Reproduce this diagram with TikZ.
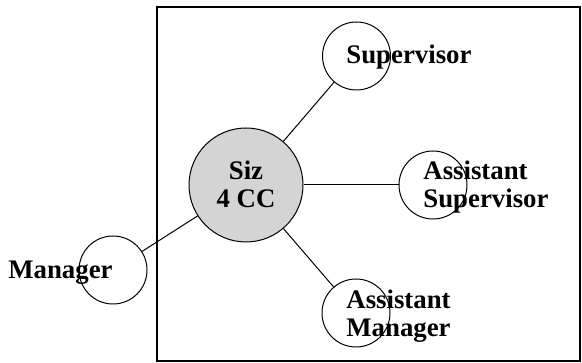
\documentclass[tikz,border=0pt]{standalone}
\usepackage{fontspec}
\setmainfont{Liberation Serif}
\usetikzlibrary{positioning}

\begin{document}
\begin{tikzpicture}[x=0.5pt, y=0.5pt,
    role/.style={circle, draw, line width=0.5pt, minimum size=34pt, inner sep=0pt},
    hub/.style={circle, draw, line width=0.5pt, fill=hubgray, minimum size=57pt, inner sep=0pt},
    tag/.style={font=\bfseries\fontsize{13.4}{14}\selectfont, inner sep=0pt, align=left, anchor=base west}]
    \definecolor{hubgray}{gray}{0.83}
    \useasboundingbox (0,0) rectangle (582,363);
    \draw[line width=1pt] (157,2) rectangle (580,356);
    \node[hub] (siz) at (246,178) {};
    \node[role] (sup) at (356.5,307) {};
    \node[role] (asup) at (433,178) {};
    \node[role] (amgr) at (356,50) {};
    \node[role] (mgr) at (113,93) {};
    \draw[line width=0.5pt] (siz) -- (sup);
    \draw[line width=0.5pt] (siz) -- (asup);
    \draw[line width=0.5pt] (siz) -- (amgr);
    \draw[line width=0.5pt] (siz) -- (mgr);
    \node[tag, align=center, anchor=base] (siztext) at (246,155) {Siz\\4 CC};
    \node[tag] (suptext) at (346,299) {Supervisor};
    \node[tag] (asuptext) at (423,155) {Assistant\\Supervisor};
    \node[tag] (amgrtext) at (346,26) {Assistant\\Manager};
    \node[tag] (mgrtext) at (8,84) {Manager};
\end{tikzpicture}
\end{document}
